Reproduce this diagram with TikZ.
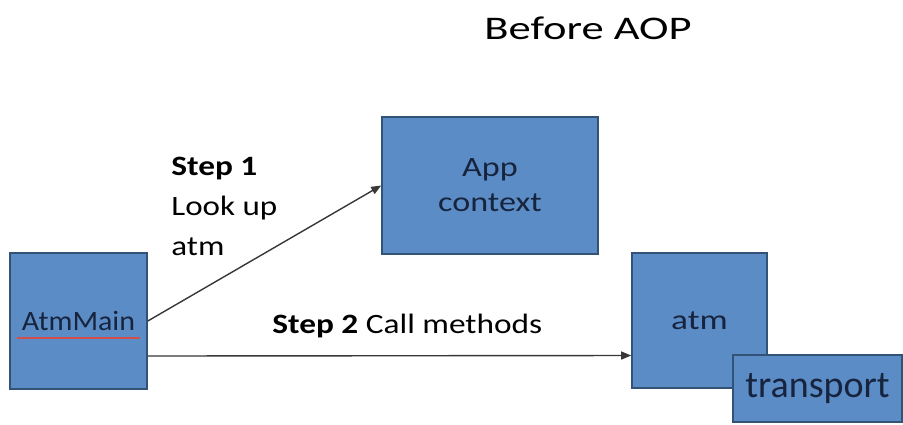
\documentclass[tikz,border=0pt]{standalone}
\usepackage{fontspec}
\setmainfont{Carlito}
\usetikzlibrary{arrows.meta}
\definecolor{boxfill}{RGB}{92,140,198}
\definecolor{boxline}{RGB}{50,82,118}
\definecolor{boxtext}{RGB}{22,36,62}
\definecolor{arrowgray}{RGB}{55,55,55}
\definecolor{spellred}{RGB}{212,78,78}
% widen a text sideways only
\newcommand{\widetext}[2]{\scalebox{#1}[1]{#2}}
\begin{document}
\begin{tikzpicture}[x=0.5pt, y=-0.5pt,
    every node/.style={font=\fontsize{14}{17.5}\selectfont},
    blockbox/.style={draw=boxline, line width=0.8pt, fill=boxfill, text=boxtext, align=center, inner sep=0pt},
    callarrow/.style={-{Triangle[length=5pt,width=4pt]}, draw=arrowgray, line width=0.7pt}]
    \useasboundingbox (0,0) rectangle (903,424);

    % Title
    \node[anchor=base, font=\fontsize{16.5}{20}\selectfont] (title) at (588,39) {\widetext{1.35}{Before AOP}};

    % Boxes
    \node[blockbox, minimum width=68.5pt, minimum height=68pt] (AtmMain) at (78.5,321) {\widetext{1.07}{AtmMain}};
    \node[blockbox, minimum width=108pt, minimum height=68.5pt] (appctx) at (490,185.5) {\widetext{1.22}{App}\\\widetext{1.22}{context}};
    \node[blockbox, minimum width=67.5pt, minimum height=67.5pt] (atm) at (699.5,320.5) {\widetext{1.26}{atm}};
    \node[blockbox, minimum width=84.5pt, minimum height=33.5pt, font=\fontsize{19}{22}\selectfont] (transport) at (817.5,388.5) {transport};

    % spell check line under AtmMain
    \draw[spellred, line width=1.3pt] (17,338) -- (140,338);

    % Step 1
    \draw[callarrow] (AtmMain.east) -- (appctx.west);
    \node[anchor=north west, align=left, inner sep=0pt, font=\fontsize{14}{20}\selectfont] (stepone) at (171,157)
      {\widetext{1.19}{\textbf{Step 1}}\\\widetext{1.18}{Look up}\\\widetext{1.18}{atm}};

    % Step 2
    \draw[callarrow] ([yshift=-17.5pt]AtmMain.east) -- ([yshift=-17.5pt]atm.west);
    \node[anchor=base west, inner sep=0pt] (steptwo) at (272,333) {\widetext{1.19}{\textbf{Step 2} Call methods}};
  \end{tikzpicture}
\end{document}
